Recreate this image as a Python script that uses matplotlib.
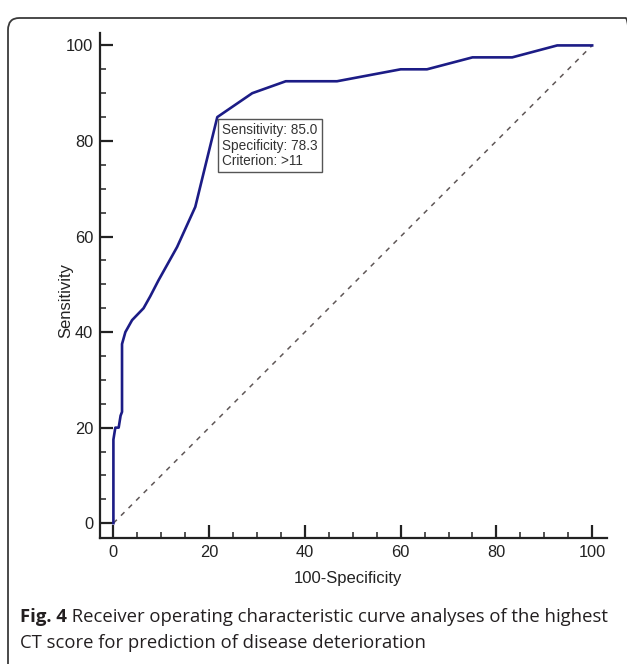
import matplotlib
matplotlib.use("Agg")
import matplotlib.pyplot as plt
from matplotlib.patches import FancyBboxPatch
from matplotlib.text import Annotation
from matplotlib.ticker import MultipleLocator

# ROC curve points (100-Specificity, Sensitivity)
fpr = [0, 0, 0.4, 1.1, 1.5, 1.8, 1.8, 2.5, 3.9, 6.3, 7.7, 9.4, 13.3, 17.1,
       21.7, 29.0, 36.0, 46.7, 60.0, 65.5, 75.0, 83.3, 92.7, 100]
tpr = [0, 17.5, 20, 20, 22.5, 23.3, 37.5, 40, 42.5, 45, 47.5, 50.8, 57.8, 66.2,
       85.0, 90.0, 92.5, 92.5, 95.0, 95.0, 97.5, 97.5, 100, 100]
ref_line = [0, 100]
x_ticks = [0, 20, 40, 60, 80, 100]
y_ticks = [0, 20, 40, 60, 80, 100]
criterion_point = (21.7, 85.0)
annotation = "Sensitivity: 85.0\nSpecificity: 78.3\nCriterion: >11"
x_label = "100-Specificity"
y_label = "Sensitivity"
caption_bold = "Fig. 4"
caption_line1 = " Receiver operating characteristic curve analyses of the highest"
caption_line2 = "CT score for prediction of disease deterioration"

W, H = 627, 664
fig = plt.figure(figsize=(W / 100, H / 100), dpi=100)

# outer rounded frame
frame = FancyBboxPatch((8 / W, -20 / H), (W + 10) / W - 8 / W, (H - 18 + 20) / H,
                       boxstyle="round,pad=0,rounding_size=0.018",
                       transform=fig.transFigure, facecolor="none",
                       edgecolor="#3a3a3a", linewidth=1.3, zorder=-5)
fig.patches.append(frame)

left, right, top, bottom = 100, 607, 33, 538
ax = fig.add_axes([left / W, 1 - bottom / H, (right - left) / W, (bottom - top) / H])
ax.patch.set_alpha(0)
ax.set_zorder(2)

ax.plot(ref_line, ref_line, linestyle=(0, (3.2, 3.8)), color="#5f5757", linewidth=1.1)
ax.plot(fpr, tpr, color="#1c1c86", linewidth=1.9, solid_joinstyle="round")

ax.set_xlim(-2.8, 103.1)
ax.set_ylim(-3.1, 102.6)
ax.set_xticks(x_ticks)
ax.set_yticks(y_ticks)
ax.xaxis.set_minor_locator(MultipleLocator(5))
ax.yaxis.set_minor_locator(MultipleLocator(5))
for s in ["top", "right"]:
    ax.spines[s].set_visible(False)
for s in ["left", "bottom"]:
    ax.spines[s].set_linewidth(1.6)
    ax.spines[s].set_color("#222222")
ax.tick_params(which="major", direction="in", length=9.5, width=1.6, color="#222222",
               labelsize=11.8, pad=5)
ax.tick_params(which="minor", direction="in", length=4.3, width=1.1, color="#222222")
for lab in ax.get_xticklabels() + ax.get_yticklabels():
    lab.set_fontfamily("Liberation Sans")
    lab.set_color("#222222")

fig.text(348 / W, 1 - 578 / H, x_label, ha="center", va="center",
         fontsize=12, family="Liberation Sans", color="#222222")
fig.text(66 / W, 1 - 300 / H, y_label, ha="center", va="center", rotation=90,
         fontsize=12, family="Liberation Sans", color="#222222")

ax.annotate(annotation, xy=criterion_point, xytext=(3.6, -4.4), textcoords="offset points",
            ha="left", va="top", fontsize=9.8, family="Liberation Sans", color="#333333",
            linespacing=1.12,
            bbox=dict(boxstyle="square,pad=0.28", facecolor="white", edgecolor="#555555",
                      linewidth=1.0))

# caption
cap_fs = 13.3
t1 = fig.text(20 / W, 1 - 622 / H, caption_bold, ha="left", va="baseline",
              fontsize=cap_fs, family="Open Sans", fontweight="bold", color="#231f20")
rest = Annotation(caption_line1, xy=(1, 0), xycoords=t1, xytext=(0, 0),
                  textcoords="offset points", ha="left", va="bottom",
                  fontsize=cap_fs, family="Open Sans", color="#231f20",
                  annotation_clip=False)
fig.add_artist(rest)
fig.text(20 / W, 1 - 648 / H, caption_line2, ha="left", va="baseline",
         fontsize=cap_fs, family="Open Sans", color="#231f20")

fig.savefig("out.png", dpi=100)
